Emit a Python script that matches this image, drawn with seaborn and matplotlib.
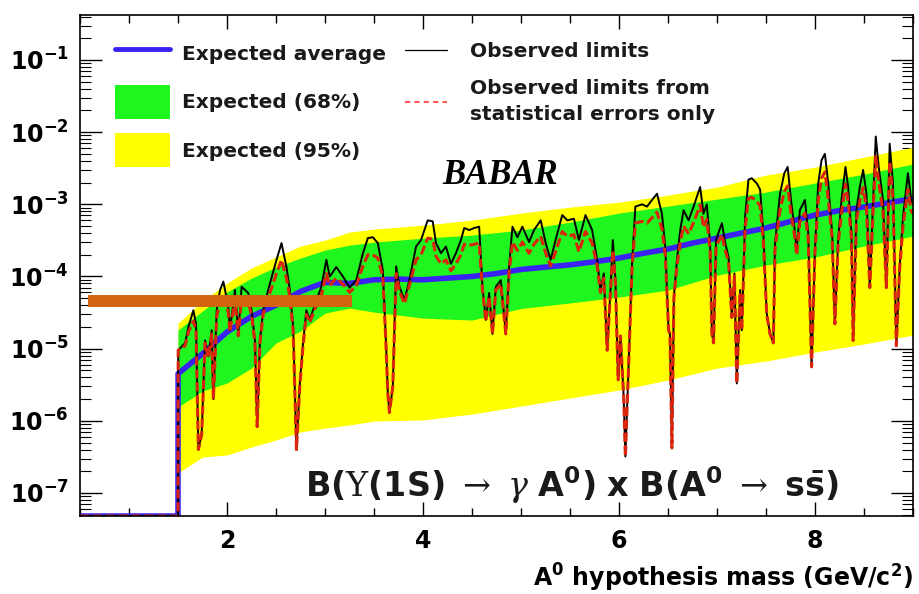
import numpy as np
import pandas as pd
import matplotlib
matplotlib.use("Agg")
import matplotlib.pyplot as plt
import matplotlib.ticker as mticker
from matplotlib.lines import Line2D
from matplotlib.patches import Patch
import seaborn as sns

# ---------------- data ----------------
# expected average limit
exp_mass = [0.5, 1.5, 1.501, 1.75, 2.0, 2.25, 2.5, 2.75, 3.0, 3.25, 3.5, 3.75, 4.0, 4.25, 4.5,
            4.75, 5.0, 5.25, 5.5, 5.75, 6.0, 6.25, 6.5, 6.75, 7.0, 7.25, 7.5, 7.75, 8.0,
            8.25, 8.5, 8.75, 9.0]
exp_avg = [4.8e-8, 4.8e-8, 4.5e-6, 8.5e-6, 1.7e-5, 2.8e-5, 4.0e-5, 6.2e-5, 8.3e-5, 8.0e-5, 9.0e-5,
           9.2e-5, 9.0e-5, 9.5e-5, 1.0e-4, 1.1e-4, 1.25e-4, 1.35e-4, 1.45e-4, 1.6e-4, 1.8e-4,
           2.1e-4, 2.4e-4, 2.9e-4, 3.4e-4, 4.0e-4, 4.7e-4, 5.8e-4, 7.1e-4, 8.2e-4, 9.2e-4,
           1.05e-3, 1.2e-3]

# expected bands
band_mass = [1.5, 1.75, 2.0, 2.25, 2.5, 2.75, 3.0, 3.25, 3.5, 4.0, 4.5, 5.0, 5.5, 6.0, 6.5,
             7.0, 7.5, 8.0, 8.5, 9.0]
band95_hi = [2.26e-5, 4.56e-5, 8.1e-5, 1.31e-4, 1.86e-4, 2.64e-4, 3.19e-4, 4.12e-4, 4.54e-4,
             5.15e-4, 6.04e-4, 7.55e-4, 9.14e-4, 1.07e-3, 1.34e-3, 1.73e-3, 2.54e-3, 3.27e-3,
             4.51e-3, 6.19e-3]
band68_hi = [1.81e-5, 3.32e-5, 6.08e-5, 9.5e-5, 1.35e-4, 1.80e-4, 2.32e-4, 2.72e-4, 2.99e-4,
             3.40e-4, 3.74e-4, 4.40e-4, 5.66e-4, 7.55e-4, 9.44e-4, 1.18e-3, 1.48e-3, 1.97e-3,
             2.62e-3, 3.61e-3]
band68_lo = [1.55e-6, 2.59e-6, 3.34e-6, 5.38e-6, 1.20e-5, 1.75e-5, 3.11e-5, 3.65e-5, 3.21e-5,
             2.65e-5, 2.49e-5, 3.6e-5, 4.3e-5, 5.19e-5, 6.49e-5, 1.04e-4, 1.44e-4, 1.86e-4,
             2.64e-4, 3.63e-4]
band95_lo = [1.89e-7, 3.15e-7, 3.36e-7, 4.33e-7, 5.42e-7, 7.0e-7, 7.94e-7, 8.75e-7, 9.93e-7,
             1.03e-6, 1.24e-6, 1.60e-6, 2.07e-6, 2.67e-6, 3.67e-6, 5.38e-6, 6.73e-6, 8.97e-6,
             1.16e-5, 1.54e-5]

# observed limits (black) and observed limits from statistical errors only (red)
obs_mass = [0.5, 1.5, 1.502, 1.573, 1.606, 1.657, 1.684, 1.708, 1.742, 1.776, 1.810, 1.844,
            1.861, 1.895, 1.929, 1.963, 2.013, 2.030, 2.081, 2.115, 2.149, 2.217, 2.251, 2.285,
            2.308, 2.336, 2.369, 2.420, 2.505, 2.556, 2.607, 2.641, 2.675, 2.709, 2.743, 2.776,
            2.810, 2.844, 2.912, 2.963, 3.014, 3.048, 3.115, 3.183, 3.251, 3.319, 3.387, 3.437,
            3.488, 3.539, 3.590, 3.624, 3.641, 3.658, 3.692, 3.726, 3.760, 3.811, 3.861, 3.929,
            3.980, 4.048, 4.099, 4.133, 4.184, 4.234, 4.285, 4.336, 4.387, 4.421, 4.472, 4.523,
            4.573, 4.607, 4.641, 4.675, 4.709, 4.743, 4.794, 4.845, 4.879, 4.913, 4.963, 5.014,
            5.082, 5.133, 5.201, 5.252, 5.302, 5.353, 5.421, 5.472, 5.540, 5.591, 5.658, 5.726,
            5.777, 5.811, 5.845, 5.879, 5.913, 5.937, 5.964, 5.991, 6.015, 6.048, 6.065, 6.099,
            6.133, 6.167, 6.235, 6.286, 6.337, 6.388, 6.438, 6.472, 6.506, 6.520, 6.540, 6.560,
            6.591, 6.625, 6.659, 6.710, 6.761, 6.794, 6.828, 6.862, 6.896, 6.930, 6.948, 6.965,
            6.990, 7.050, 7.084, 7.118, 7.151, 7.178, 7.202, 7.236, 7.253, 7.287, 7.321, 7.355,
            7.406, 7.440, 7.473, 7.507, 7.541, 7.575, 7.592, 7.643, 7.687, 7.721, 7.755, 7.789,
            7.813, 7.846, 7.897, 7.931, 7.965, 7.999, 8.033, 8.067, 8.101, 8.135, 8.175, 8.203,
            8.236, 8.270, 8.311, 8.338, 8.372, 8.389, 8.423, 8.457, 8.491, 8.525, 8.559, 8.593,
            8.620, 8.650, 8.694, 8.728, 8.762, 8.796, 8.830, 8.864, 8.898, 8.948, 8.982, 9.0]
obs_limit = [4.8e-8, 4.8e-8, 9.5e-6, 1.2e-5, 2.0e-5, 3.4e-5, 2.2e-5, 4.0e-7, 6.8e-7, 1.3e-5,
             7.8e-6, 1.8e-5, 2.0e-6, 3.4e-5, 6.5e-5, 8.5e-5, 3.8e-5, 1.8e-5, 6.5e-5, 1.6e-5,
             7.2e-5, 5.9e-5, 3.4e-5, 1.3e-5, 8.3e-7, 1.3e-5, 3.4e-5, 6.5e-5, 1.7e-4, 2.9e-4,
             1.35e-4, 6.5e-5, 2.0e-5, 4.0e-7, 3.3e-6, 1.2e-5, 3.4e-5, 2.5e-5, 4.7e-5, 7.2e-5,
             1.7e-4, 1.0e-4, 1.35e-4, 1.0e-4, 7.0e-5, 8.9e-5, 2.1e-4, 3.4e-4, 3.5e-4, 2.9e-4,
             1.23e-4, 1.07e-5, 2.4e-6, 1.3e-6, 3.0e-6, 1.38e-4, 7.2e-5, 4.7e-5, 8.9e-5, 2.6e-4,
             3.2e-4, 6.0e-4, 5.8e-4, 2.9e-4, 2.1e-4, 2.6e-4, 1.5e-4, 2.1e-4, 3.2e-4, 4.7e-4,
             4.4e-4, 4.7e-4, 4.9e-4, 7.2e-5, 2.5e-5, 5.9e-5, 1.6e-5, 7.2e-5, 8.9e-5, 1.6e-5,
             1.38e-4, 4.9e-4, 3.5e-4, 4.9e-4, 3.0e-4, 4.4e-4, 6.0e-4, 2.9e-4, 1.7e-4, 3.2e-4,
             7.1e-4, 6.0e-4, 6.3e-4, 3.2e-4, 7.1e-4, 4.4e-4, 1.7e-4, 6.5e-5, 1.1e-4, 9.5e-6,
             6.5e-5, 3.2e-4, 8.9e-5, 3.7e-6, 1.5e-5, 2.1e-6, 3.2e-7, 6.3e-6, 1.5e-4, 9.3e-4,
             1.0e-3, 9.3e-4, 1.15e-3, 1.4e-3, 7.4e-4, 2.6e-4, 1.8e-5, 1.6e-5, 4.2e-7, 5.2e-5,
             1.7e-4, 4.4e-4, 8.3e-4, 6.0e-4, 9.3e-4, 1.26e-3, 1.74e-3, 7.4e-4, 1.0e-3, 2.8e-4,
             1.6e-5, 1.2e-5, 3.2e-4, 5.5e-4, 2.9e-4, 1.86e-4, 2.75e-5, 1.1e-4, 3.3e-6, 6.5e-5,
             1.8e-5, 6.8e-4, 2.2e-3, 2.3e-3, 1.95e-3, 1.6e-3, 4.0e-4, 3.1e-5, 1.6e-5, 1.2e-5,
             2.9e-4, 1.4e-3, 2.7e-3, 3.3e-3, 1.15e-3, 4.9e-4, 2.3e-4, 8.3e-4, 1.15e-3, 4.0e-4,
             5.6e-6, 2.3e-4, 1.95e-3, 4.1e-3, 5.0e-3, 1.95e-3, 4.0e-4, 2.2e-5, 3.2e-4, 1.15e-3,
             3.3e-3, 1.74e-3, 4.0e-4, 1.3e-5, 8.3e-4, 1.74e-3, 3.0e-3, 1.4e-3, 7.2e-5, 1.15e-3,
             8.7e-3, 3.3e-3, 1.15e-3, 7.2e-5, 6.9e-3, 1.95e-3, 1.1e-5, 1.35e-4, 6.8e-4, 2.7e-3,
             1.15e-3, 1.0e-3]
stat_limit = [4.8e-8, 4.8e-8, 9.5e-6, 1.1e-5, 1.7e-5, 2.4e-5, 1.8e-5, 4.0e-7, 6.5e-7, 1.2e-5,
              7.5e-6, 1.6e-5, 2.0e-6, 2.8e-5, 4.5e-5, 5.5e-5, 3.2e-5, 1.7e-5, 4.8e-5, 1.5e-5,
              5.0e-5, 4.4e-5, 2.9e-5, 1.2e-5, 8.3e-7, 1.2e-5, 3.0e-5, 5.0e-5, 1.1e-4, 1.7e-4,
              9.5e-5, 5.2e-5, 1.8e-5, 4.0e-7, 3.1e-6, 1.1e-5, 3.0e-5, 2.3e-5, 4.0e-5, 5.5e-5,
              1.1e-4, 7.5e-5, 9.5e-5, 7.8e-5, 6.0e-5, 7.5e-5, 1.4e-4, 2.0e-4, 2.0e-4, 1.8e-4,
              1.0e-4, 1.0e-5, 2.4e-6, 1.3e-6, 3.0e-6, 1.1e-4, 6.2e-5, 4.2e-5, 7.5e-5, 1.7e-4,
              2.0e-4, 3.4e-4, 3.3e-4, 1.9e-4, 1.5e-4, 1.7e-4, 1.2e-4, 1.5e-4, 2.0e-4, 2.8e-4,
              2.7e-4, 2.8e-4, 2.9e-4, 6.5e-5, 2.4e-5, 5.3e-5, 1.6e-5, 6.5e-5, 7.8e-5, 1.6e-5,
              1.15e-4, 3.0e-4, 2.3e-4, 3.0e-4, 2.1e-4, 2.8e-4, 3.6e-4, 2.1e-4, 1.4e-4, 2.2e-4,
              4.2e-4, 3.6e-4, 3.8e-4, 2.2e-4, 4.2e-4, 2.9e-4, 1.4e-4, 6.0e-5, 9.5e-5, 9.5e-6,
              6.0e-5, 2.3e-4, 8.0e-5, 3.7e-6, 1.5e-5, 2.1e-6, 3.2e-7, 6.3e-6, 1.3e-4, 5.5e-4,
              5.8e-4, 5.5e-4, 6.5e-4, 7.8e-4, 4.6e-4, 2.0e-4, 1.8e-5, 1.6e-5, 4.2e-7, 5.0e-5,
              1.4e-4, 3.0e-4, 5.0e-4, 3.9e-4, 5.6e-4, 7.3e-4, 9.8e-4, 4.8e-4, 6.2e-4, 2.3e-4,
              1.6e-5, 1.2e-5, 2.6e-4, 3.8e-4, 2.3e-4, 1.6e-4, 2.7e-5, 1.0e-4, 3.3e-6, 6.0e-5,
              1.8e-5, 4.6e-4, 1.2e-3, 1.25e-3, 1.1e-3, 9.5e-4, 3.1e-4, 3.0e-5, 1.6e-5, 1.2e-5,
              2.4e-4, 8.4e-4, 1.5e-3, 1.8e-3, 7.5e-4, 3.9e-4, 2.0e-4, 5.8e-4, 7.6e-4, 3.3e-4,
              5.6e-6, 2.1e-4, 1.15e-3, 2.3e-3, 2.8e-3, 1.2e-3, 3.4e-4, 2.2e-5, 2.8e-4, 7.5e-4,
              1.9e-3, 1.1e-3, 3.4e-4, 1.3e-5, 6.0e-4, 1.1e-3, 1.7e-3, 9.0e-4, 7.0e-5, 8.0e-4,
              4.8e-3, 2.0e-3, 8.0e-4, 7.0e-5, 3.9e-3, 1.2e-3, 1.1e-5, 1.3e-4, 5.0e-4, 1.6e-3,
              8.0e-4, 7.5e-4]

# overlaid orange reference limit
ref_mass = [0.58, 3.28]
ref_limit = [4.6e-5, 4.6e-5]

x_ticks = [2, 4, 6, 8]
y_ticks = [1e-7, 1e-6, 1e-5, 1e-4, 1e-3, 1e-2, 1e-1]
legend_labels_left = ["Expected average", "Expected (68%)", "Expected (95%)"]
legend_labels_right = ["Observed limits", "Observed limits from\nstatistical errors only"]

# ---------------- style ----------------
sns.set_theme(style="ticks")
plt.rcParams.update({
    "font.family": ["DejaVu Sans"],
    "mathtext.fontset": "custom",
    "mathtext.bf": "DejaVu Sans:bold",
    "mathtext.rm": "DejaVu Serif",
    "mathtext.it": "DejaVu Serif:italic",
    "mathtext.sf": "DejaVu Sans",
    "axes.edgecolor": "black",
    "axes.linewidth": 1.2,
    "xtick.color": "black",
    "ytick.color": "black",
})

BLUE = "#3a22f2"
GREEN = "#1ff51f"
YELLOW = "#ffff00"
RED = "#d8250c"
ORANGE = "#d2640f"

fig = plt.figure(figsize=(9.2, 5.94), dpi=100)
fig.patch.set_facecolor("white")
ax = fig.add_axes([80 / 920, 1 - 516 / 594, 833 / 920, 501 / 594])
ax.set_facecolor("white")

ax.fill_between(band_mass, band95_lo, band95_hi, color=YELLOW, lw=0, zorder=1)
ax.fill_between(band_mass, band68_lo, band68_hi, color=GREEN, lw=0, zorder=2)

df_exp = pd.DataFrame({"mass": exp_mass, "limit": exp_avg})
df_obs = pd.DataFrame({"mass": obs_mass, "limit": obs_limit})
df_stat = pd.DataFrame({"mass": obs_mass, "limit": stat_limit})
df_ref = pd.DataFrame({"mass": ref_mass, "limit": ref_limit})

sns.lineplot(data=df_exp, x="mass", y="limit", ax=ax, color=BLUE, lw=4,
             estimator=None, sort=False, zorder=3)
sns.lineplot(data=df_obs, x="mass", y="limit", ax=ax, color="black", lw=1.4,
             estimator=None, sort=False, zorder=4)
sns.lineplot(data=df_stat, x="mass", y="limit", ax=ax, color=RED, lw=2.2,
             linestyle=(0, (3, 1.2)), estimator=None, sort=False, zorder=5)
sns.lineplot(data=df_ref, x="mass", y="limit", ax=ax, color=ORANGE, lw=8.6,
             solid_capstyle="butt", estimator=None, sort=False, zorder=6)

ax.set_yscale("log")
ax.set_xlim(0.5, 9.0)
ax.set_ylim(4.8e-8, 0.42)
ax.set_ylabel("")

ax.xaxis.set_major_locator(mticker.FixedLocator(x_ticks))
ax.xaxis.set_major_formatter(mticker.FuncFormatter(lambda v, p: r"$\mathbf{%d}$" % round(v)))
ax.xaxis.set_minor_locator(mticker.MultipleLocator(0.5))
ax.yaxis.set_major_locator(mticker.FixedLocator(y_ticks))
ax.yaxis.set_major_formatter(mticker.FuncFormatter(
    lambda v, p: r"$\mathbf{10^{%d}}$" % round(np.log10(v))))
ax.yaxis.set_minor_locator(mticker.LogLocator(base=10, subs=np.arange(2, 10), numticks=30))
ax.yaxis.set_minor_formatter(mticker.NullFormatter())

ax.tick_params(axis="x", which="major", direction="in", length=10, width=1,
               top=True, bottom=True, pad=9, labelsize=17)
ax.tick_params(axis="x", which="minor", direction="in", length=5.5, width=1,
               top=True, bottom=True)
ax.tick_params(axis="y", which="major", direction="in", length=16, width=1,
               left=True, right=True, pad=8, labelsize=17)
ax.tick_params(axis="y", which="minor", direction="in", length=8, width=0.8,
               left=True, right=True)
for s in ax.spines.values():
    s.set_visible(True)
    s.set_color("black")
    s.set_linewidth(1.2)
    s.set_zorder(10)

ax.set_xlabel(r"$\mathbf{A^{0}}$ hypothesis mass (GeV/c$^{\mathbf{2}}$)", loc="right",
              fontsize=17, fontweight="bold", labelpad=7, color="black")

# legends
prop = dict(family="DejaVu Sans", weight="bold", size=14.5)
h_left = [Line2D([], [], color=BLUE, lw=3.5),
          Patch(facecolor=GREEN, edgecolor="none"),
          Patch(facecolor=YELLOW, edgecolor="none")]
leg1 = ax.legend(h_left, legend_labels_left, loc="upper left",
                 bbox_to_anchor=(115 / 920, 1 - 37 / 594), bbox_transform=fig.transFigure,
                 frameon=False, borderpad=0, borderaxespad=0, handlelength=2.75,
                 handleheight=2.2, handletextpad=0.6, labelspacing=0.72, prop=prop)
for t in leg1.get_texts():
    t.set_color("#1a1a1a")
ax.add_artist(leg1)

h_right = [Line2D([], [], color="black", lw=0.9),
           Line2D([], [], color="#ff5a5a", lw=1.5, linestyle=(0, (2.5, 2)))]
leg2 = ax.legend(h_right, legend_labels_right, loc="upper left",
                 bbox_to_anchor=(405 / 920, 1 - 42 / 594), bbox_transform=fig.transFigure,
                 frameon=False, borderpad=0, borderaxespad=0, handlelength=2.1,
                 handletextpad=1.15, labelspacing=0.9, prop=prop)
for t in leg2.get_texts():
    t.set_color("#1a1a1a")
    t.set_linespacing(1.45)

ax.text((500 - 80) / 833, (516 - 175) / 501, "BABAR", transform=ax.transAxes,
        ha="center", va="center", fontsize=25, fontweight="bold", fontstyle="italic",
        family="Liberation Serif", color="black", zorder=12)

ax.text((572 - 80) / 833, (516 - 485) / 501,
        r"$\mathbf{B(}\Upsilon\mathbf{(1S)}\ \rightarrow\ \gamma\ \mathbf{A^{0})\ x\ B(A^{0}}\ \rightarrow\ \mathbf{s\bar{s})}$",
        transform=ax.transAxes, ha="center", va="center", fontsize=24, color="#1a1a1a",
        zorder=12)

fig.savefig("out.png", dpi=100, facecolor="white")
